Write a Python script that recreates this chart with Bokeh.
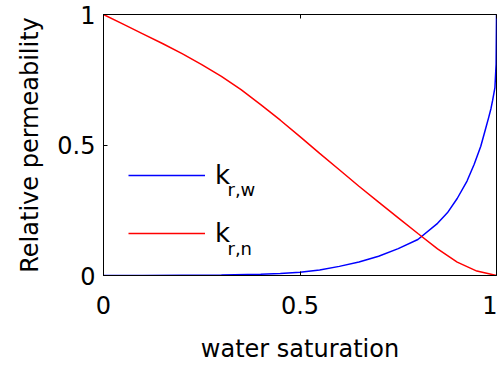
from bokeh.plotting import figure
from bokeh.models import Range1d, FixedTicker, Legend, LegendItem, Label, LinearAxis
from bokeh.embed import file_html
from bokeh.resources import INLINE

# water saturation grid and relative permeabilities
sw_w = [0.0, 0.1, 0.2, 0.3, 0.4, 0.45, 0.5, 0.55, 0.6, 0.65, 0.7, 0.75, 0.8,
        0.85, 0.875, 0.9, 0.925, 0.943, 0.96, 0.97, 0.98, 0.986, 0.99, 0.996,
        0.999, 1.0]
krw = [0.0, 0.0, 0.001, 0.002, 0.005, 0.008, 0.012, 0.021, 0.035, 0.052,
       0.074, 0.103, 0.138, 0.2, 0.24, 0.295, 0.362, 0.425, 0.495, 0.55,
       0.605, 0.64, 0.67, 0.72, 0.81, 1.0]

sw_n = [0.0, 0.05, 0.1, 0.15, 0.2, 0.25, 0.3, 0.35, 0.4, 0.45, 0.5, 0.55, 0.6,
        0.65, 0.7, 0.75, 0.8, 0.85, 0.9, 0.95, 1.0]
krn = [1.0, 0.963, 0.926, 0.889, 0.85, 0.808, 0.763, 0.712, 0.655, 0.595,
       0.532, 0.468, 0.405, 0.342, 0.281, 0.221, 0.161, 0.102, 0.051, 0.017,
       0.0]

ticks = [0, 0.5, 1]
tick_labels = {0: "0", 0.5: "0.5", 1: "1"}
x_title = "water saturation"
y_title = "Relative permeability"
legend_main = "k"
sub_w = "r,w"
sub_n = "r,n"

FONT = "DejaVu Sans"

p = figure(width=497, height=368, output_backend="svg", toolbar_location=None,
           x_range=Range1d(0, 1), y_range=Range1d(0, 1),
           min_border_left=103, min_border_right=1, min_border_top=14,
           min_border_bottom=93)
p.grid.visible = False
p.outline_line_color = "black"
p.outline_line_width = 1
p.background_fill_color = "white"
p.border_fill_color = "white"

for ax in (p.xaxis[0], p.yaxis[0]):
    ax.ticker = FixedTicker(ticks=ticks)
    ax.major_label_overrides = tick_labels
    ax.major_tick_in = 4
    ax.major_tick_out = 0
    ax.minor_tick_line_color = None
    ax.axis_line_color = "black"
    ax.major_tick_line_color = "black"
    ax.major_label_text_font = FONT
    ax.major_label_text_font_size = "24px"
    ax.major_label_text_color = "black"
    ax.axis_label_text_font = FONT
    ax.axis_label_text_font_size = "24px"
    ax.axis_label_text_font_style = "normal"
    ax.axis_label_text_color = "black"

p.xaxis[0].axis_label = x_title
p.yaxis[0].axis_label = y_title
p.xaxis[0].major_label_standoff = 20
p.xaxis[0].axis_label_standoff = 18
p.yaxis[0].major_label_standoff = 8
p.yaxis[0].axis_label_standoff = 10

# tick marks on the top edge (box style), without labels
top_ax = LinearAxis(ticker=FixedTicker(ticks=ticks),
                    major_label_overrides={0: "", 0.5: "", 1: ""},
                    major_label_text_font_size="0px",
                    major_tick_in=4, major_tick_out=0, major_label_standoff=0,
                    axis_label_standoff=0,
                    minor_tick_line_color=None, axis_line_color="black",
                    major_tick_line_color="black")
p.add_layout(top_ax, "above")

rw = p.line(sw_w, krw, line_color="#0000ff", line_width=1.5)
rn = p.line(sw_n, krn, line_color="#ff0000", line_width=1.5)

legend = Legend(items=[LegendItem(label=legend_main, renderers=[rw]),
                       LegendItem(label=legend_main, renderers=[rn])],
                location=(25, 22), padding=0, margin=0, spacing=18,
                glyph_width=77, glyph_height=40, label_height=40,
                label_standoff=10, border_line_alpha=0,
                background_fill_alpha=0,
                label_text_font=FONT, label_text_font_size="26px",
                label_text_baseline="alphabetic", label_text_color="black")
p.add_layout(legend)

for txt, yy in ((sub_w, 86), (sub_n, 27)):
    p.add_layout(Label(x=124, y=yy, x_units="screen", y_units="screen",
                       text=txt, text_font=FONT, text_font_size="18px",
                       text_baseline="alphabetic", text_align="left",
                       text_color="black"))

open("out.html", "w").write(file_html(p, INLINE))
